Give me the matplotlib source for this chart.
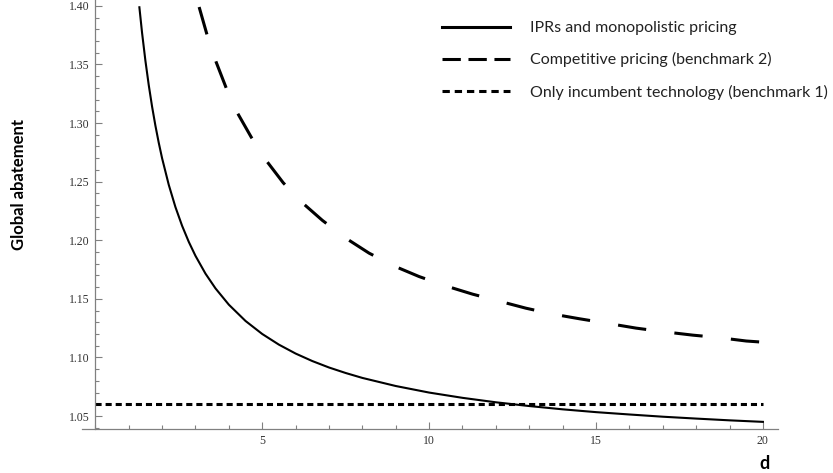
import matplotlib.pyplot as plt
from matplotlib.lines import Line2D
from matplotlib.ticker import MultipleLocator

# valores
d_ipr = [1.32, 1.4, 1.5, 1.6, 1.7, 1.8, 1.9, 2.0, 2.2, 2.4, 2.6, 2.8, 3.0, 3.3, 3.6,
         4.0, 4.5, 5, 5.5, 6, 6.5, 7, 7.5, 8, 9, 10, 11, 12, 13, 14, 15, 16, 17, 18, 19, 20]
ab_ipr = [1.3988, 1.3771, 1.3533, 1.3325, 1.3141, 1.2978, 1.2832, 1.2700, 1.2473, 1.2283,
          1.2123, 1.1986, 1.1867, 1.1715, 1.1589, 1.1450, 1.1311, 1.1200, 1.1109, 1.1033,
          1.0969, 1.0914, 1.0867, 1.0825, 1.0756, 1.0700, 1.0655, 1.0617, 1.0585, 1.0557,
          1.0533, 1.0513, 1.0494, 1.0478, 1.0463, 1.0450]

d_comp = [3.11, 3.35, 3.62, 3.92, 4.25, 4.67, 5.12, 5.63, 6.2, 6.8, 7.49, 8.2, 8.95, 9.7,
          10.5, 11.3, 12.1, 12.9, 13.7, 14.5, 15.36, 16.2, 17.0, 17.9, 18.65, 19.5, 20]
ab_comp = [1.399, 1.375, 1.352, 1.330, 1.309, 1.288, 1.268, 1.249, 1.232, 1.217, 1.202,
           1.189, 1.178, 1.169, 1.161, 1.154, 1.148, 1.142, 1.137, 1.133, 1.129, 1.125,
           1.122, 1.119, 1.117, 1.114, 1.113]

d_inc = [0, 20]
ab_inc = [1.06, 1.06]

labels = ['IPRs and monopolistic pricing',
          'Competitive pricing (benchmark 2)',
          'Only incumbent technology (benchmark 1)']

fig = plt.figure(figsize=(8.33, 4.73), dpi=100)
ax = fig.add_axes([0.0984, 0.093, 0.8355, 0.907])

ax.plot(d_ipr, ab_ipr, color='black', lw=1.5)
ax.plot(d_comp, ab_comp, color='black', lw=2.2, dashes=(9.3, 9.3))
ax.plot(d_inc, ab_inc, color='black', lw=2.2, dashes=(2.0, 1.3))

ax.set_xlim(-0.4, 20.45)
ax.set_ylim(1.0389, 1.405)

for s in ['top', 'right']:
    ax.spines[s].set_visible(False)
ax.spines['left'].set_position(('data', 0))
for s in ['left', 'bottom']:
    ax.spines[s].set_color('#808080')
    ax.spines[s].set_linewidth(0.9)

ax.xaxis.set_minor_locator(MultipleLocator(1))
ax.yaxis.set_minor_locator(MultipleLocator(0.01))
ax.set_xticks([5, 10, 15, 20])
ax.set_xticklabels(['5', '10', '15', '20'])
ax.set_yticks([1.05, 1.10, 1.15, 1.20, 1.25, 1.30, 1.35, 1.40])
ax.set_yticklabels(['1.05', '1.10', '1.15', '1.20', '1.25', '1.30', '1.35', '1.40'])
ax.tick_params(which='both', direction='in', color='#808080', width=0.8,
               labelsize=8.5, labelcolor='#333333', pad=4)
ax.tick_params(which='major', length=5)
ax.tick_params(which='minor', length=3)
for t in ax.get_xticklabels() + ax.get_yticklabels():
    t.set_fontfamily('Liberation Serif')

# legenda
handles = [Line2D([], [], color='black', lw=2.2),
           Line2D([], [], color='black', lw=2.2, dashes=(6, 2.5)),
           Line2D([], [], color='black', lw=2.2, dashes=(2.4, 1.6))]
leg = fig.legend(handles, labels, loc='upper left',
                 bbox_to_anchor=(442 / 833, 1 - 21 / 473), borderaxespad=0, borderpad=0,
                 frameon=False, handlelength=4.26, handletextpad=1.25, labelspacing=1.08,
                 prop={'family': 'Lato', 'size': 11.5})
for t in leg.get_texts():
    t.set_color('#222222')

fig.text(19 / 833, 1 - 184 / 473, 'Global abatement', rotation=90, ha='center',
         va='center', family='Lato', weight='bold', fontsize=12)
fig.text(765 / 833, 1 - 463 / 473, 'd', ha='center', va='center', family='Lato',
         weight='bold', fontsize=13)

fig.savefig('out.png', dpi=100)
